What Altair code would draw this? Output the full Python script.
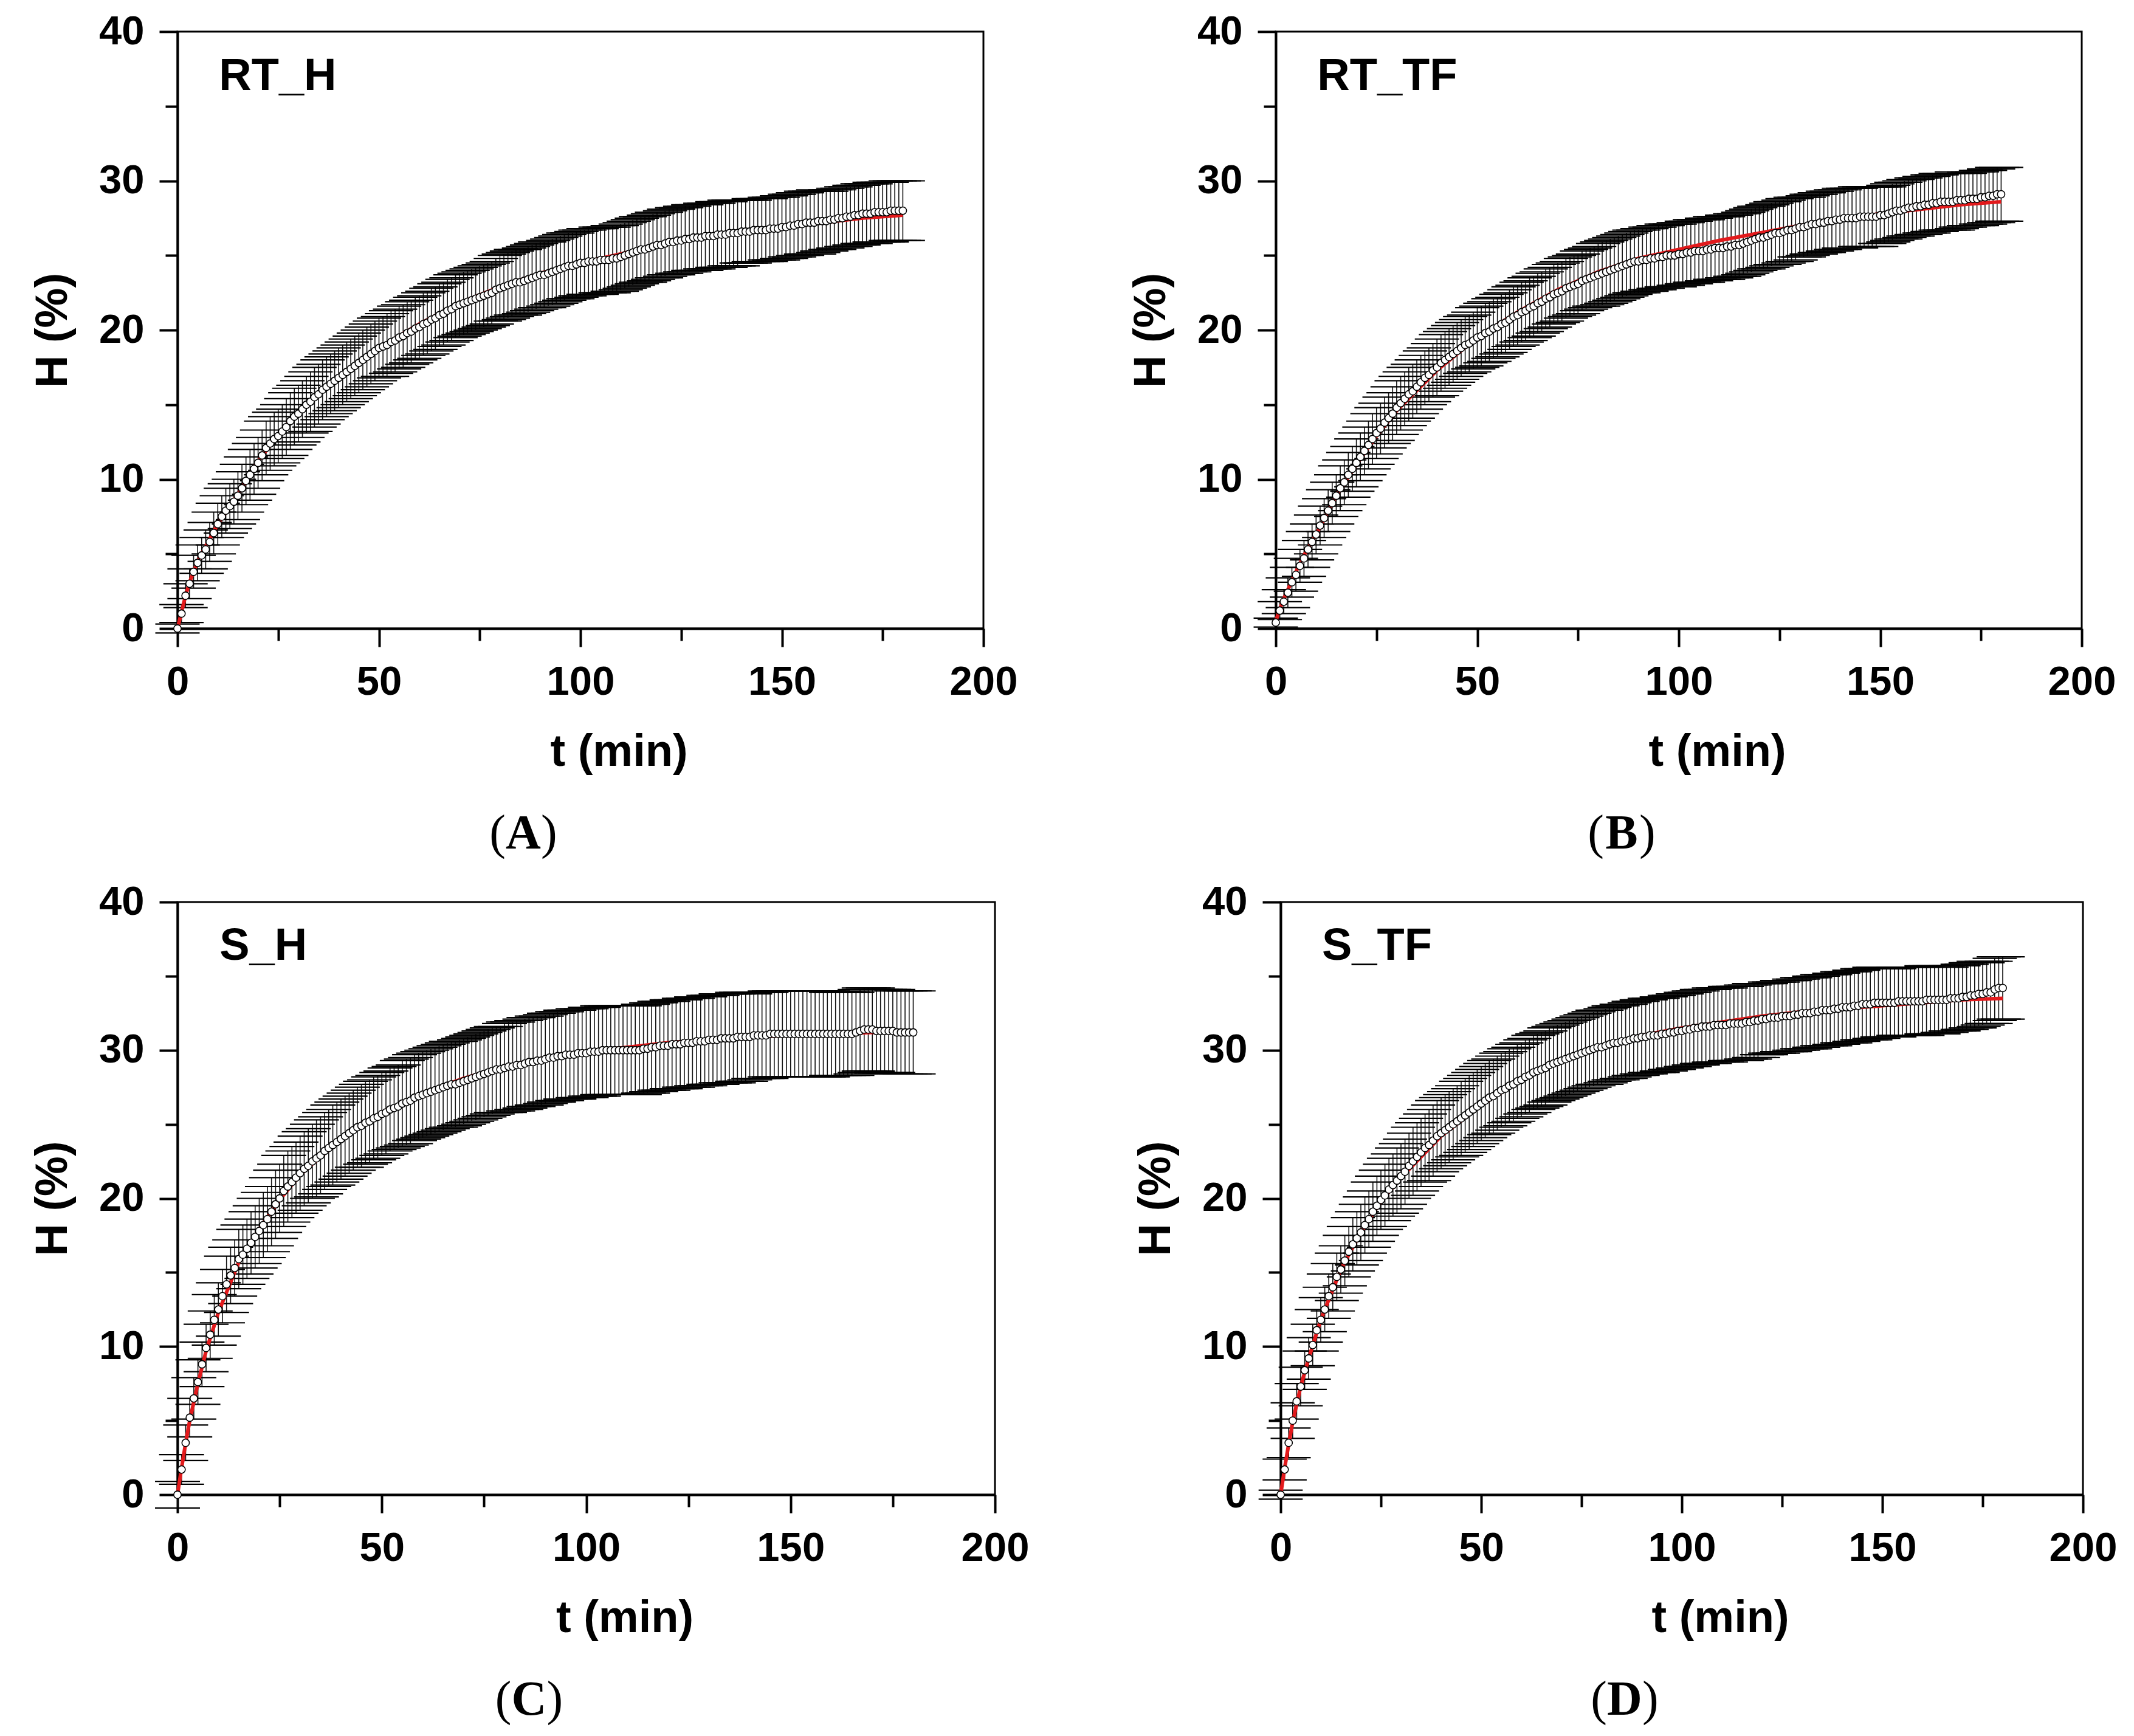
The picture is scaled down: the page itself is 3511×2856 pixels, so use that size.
import altair as alt
import pandas as pd

# time grid (min), one reading per minute
T = list(range(181))

# ---- panel A: RT_H ----
A_H = [0.0, 1.0, 2.2, 3.0, 3.8, 4.4, 4.9, 5.3, 5.8, 6.4,
       7.0, 7.5, 7.9, 8.2, 8.5, 8.9, 9.4, 9.9, 10.3, 10.7,
       11.1, 11.6, 12.1, 12.4, 12.7, 12.9, 13.2, 13.5, 13.9, 14.2,
       14.4, 14.7, 15.0, 15.2, 15.5, 15.7, 16.0, 16.2, 16.4, 16.6,
       16.8, 17.0, 17.2, 17.4, 17.6, 17.8, 18.0, 18.2, 18.4, 18.6,
       18.8, 18.9, 19.0, 19.2, 19.3, 19.5, 19.6, 19.8, 19.9, 20.1,
       20.2, 20.4, 20.5, 20.7, 20.8, 21.0, 21.1, 21.3, 21.4, 21.6,
       21.7, 21.8, 21.9, 22.0, 22.1, 22.2, 22.3, 22.4, 22.5, 22.7,
       22.8, 22.9, 23.0, 23.1, 23.2, 23.2, 23.3, 23.4, 23.5, 23.6,
       23.7, 23.7, 23.8, 23.9, 24.0, 24.1, 24.2, 24.3, 24.3, 24.4,
       24.5, 24.5, 24.6, 24.6, 24.6, 24.7, 24.7, 24.7, 24.8, 24.8,
       24.9, 25.0, 25.1, 25.2, 25.3, 25.4, 25.4, 25.5, 25.6, 25.7,
       25.7, 25.8, 25.9, 25.9, 26.0, 26.0, 26.1, 26.1, 26.2, 26.2,
       26.2, 26.3, 26.3, 26.3, 26.4, 26.4, 26.4, 26.5, 26.5, 26.5,
       26.6, 26.6, 26.6, 26.7, 26.7, 26.7, 26.7, 26.8, 26.8, 26.8,
       26.9, 26.9, 27.0, 27.0, 27.1, 27.1, 27.2, 27.2, 27.2, 27.3,
       27.3, 27.3, 27.4, 27.4, 27.5, 27.5, 27.6, 27.6, 27.7, 27.7,
       27.8, 27.8, 27.8, 27.9, 27.9, 27.9, 27.9, 28.0, 28.0, 28.0,
       28.0]
A_E = [0.3, 0.6, 0.8, 1.0, 1.1, 1.2, 1.2, 1.3, 1.3, 1.4,
       1.4, 1.4, 1.5, 1.5, 1.5, 1.6, 1.6, 1.6, 1.7, 1.7,
       1.7, 1.7, 1.8, 1.8, 1.8, 1.8, 1.8, 1.9, 1.9, 1.9,
       1.9, 1.9, 1.9, 2.0, 2.0, 2.0, 2.0, 2.0, 2.0, 2.0,
       2.0, 2.0, 2.0, 2.0, 2.0, 2.0, 2.0, 2.0, 2.0, 2.0,
       2.0, 2.0, 2.1, 2.1, 2.1, 2.1, 2.1, 2.1, 2.1, 2.1,
       2.1, 2.1, 2.1, 2.1, 2.1, 2.1, 2.1, 2.1, 2.1, 2.1,
       2.1, 2.1, 2.1, 2.1, 2.1, 2.1, 2.1, 2.1, 2.1, 2.1,
       2.2, 2.2, 2.2, 2.2, 2.2, 2.2, 2.2, 2.2, 2.2, 2.2,
       2.2, 2.2, 2.2, 2.2, 2.2, 2.2, 2.2, 2.2, 2.2, 2.2,
       2.2, 2.2, 2.2, 2.2, 2.2, 2.2, 2.2, 2.2, 2.2, 2.2,
       2.2, 2.2, 2.2, 2.2, 2.2, 2.2, 2.2, 2.2, 2.2, 2.2,
       2.2, 2.2, 2.2, 2.2, 2.2, 2.2, 2.2, 2.2, 2.2, 2.2,
       2.2, 2.2, 2.2, 2.2, 2.2, 2.2, 2.2, 2.2, 2.2, 2.2,
       2.1, 2.1, 2.1, 2.1, 2.1, 2.1, 2.1, 2.1, 2.1, 2.1,
       2.1, 2.1, 2.1, 2.1, 2.1, 2.1, 2.1, 2.1, 2.1, 2.1,
       2.0, 2.0, 2.0, 2.0, 2.0, 2.0, 2.0, 2.0, 2.0, 2.0,
       2.0, 2.0, 2.0, 2.0, 2.0, 2.0, 2.0, 2.0, 2.0, 2.0,
       2.0]

# ---- panel B: RT_TF ----
B_H = [0.4, 1.2, 1.8, 2.4, 3.1, 3.6, 4.2, 4.7, 5.3, 5.8,
       6.3, 6.9, 7.4, 7.9, 8.4, 8.9, 9.4, 9.8, 10.3, 10.7,
       11.1, 11.5, 11.9, 12.3, 12.7, 13.1, 13.4, 13.8, 14.1, 14.4,
       14.8, 15.1, 15.4, 15.7, 15.9, 16.2, 16.5, 16.8, 17.0, 17.3,
       17.5, 17.8, 18.0, 18.2, 18.4, 18.6, 18.8, 19.0, 19.1, 19.3,
       19.5, 19.6, 19.8, 19.9, 20.1, 20.2, 20.4, 20.5, 20.7, 20.9,
       21.0, 21.2, 21.3, 21.5, 21.6, 21.8, 21.9, 22.1, 22.2, 22.4,
       22.5, 22.6, 22.8, 22.9, 23.0, 23.1, 23.3, 23.4, 23.5, 23.6,
       23.7, 23.8, 23.9, 24.0, 24.1, 24.2, 24.3, 24.4, 24.5, 24.6,
       24.6, 24.7, 24.7, 24.8, 24.8, 24.9, 24.9, 25.0, 25.0, 25.0,
       25.1, 25.1, 25.2, 25.2, 25.3, 25.3, 25.3, 25.4, 25.4, 25.5,
       25.5, 25.5, 25.6, 25.6, 25.7, 25.7, 25.8, 25.9, 26.0, 26.1,
       26.2, 26.2, 26.3, 26.4, 26.5, 26.5, 26.6, 26.7, 26.7, 26.8,
       26.9, 26.9, 27.0, 27.1, 27.1, 27.2, 27.2, 27.3, 27.3, 27.4,
       27.4, 27.5, 27.5, 27.5, 27.5, 27.6, 27.6, 27.6, 27.6, 27.6,
       27.7, 27.7, 27.8, 27.9, 28.0, 28.0, 28.1, 28.2, 28.2, 28.3,
       28.3, 28.4, 28.4, 28.5, 28.5, 28.6, 28.6, 28.6, 28.6, 28.7,
       28.7, 28.7, 28.8, 28.8, 28.8, 28.9, 28.9, 29.0, 29.0, 29.1,
       29.1]
B_E = [0.3, 0.6, 0.8, 1.0, 1.0, 1.1, 1.1, 1.2, 1.2, 1.2,
       1.3, 1.3, 1.3, 1.4, 1.4, 1.4, 1.5, 1.5, 1.5, 1.5,
       1.6, 1.6, 1.6, 1.6, 1.7, 1.7, 1.7, 1.7, 1.7, 1.8,
       1.8, 1.8, 1.8, 1.8, 1.8, 1.8, 1.8, 1.8, 1.8, 1.8,
       1.9, 1.9, 1.9, 1.9, 1.9, 1.9, 1.9, 1.9, 1.9, 1.9,
       2.0, 2.0, 2.0, 2.0, 2.0, 2.0, 2.0, 2.0, 2.0, 2.0,
       2.0, 2.0, 2.0, 2.0, 2.0, 2.0, 2.0, 2.0, 2.0, 2.0,
       2.0, 2.0, 2.0, 2.0, 2.0, 2.0, 2.0, 2.0, 2.0, 2.0,
       2.1, 2.1, 2.1, 2.1, 2.1, 2.1, 2.1, 2.1, 2.1, 2.1,
       2.1, 2.1, 2.1, 2.1, 2.1, 2.1, 2.1, 2.1, 2.1, 2.1,
       2.1, 2.1, 2.1, 2.1, 2.1, 2.1, 2.1, 2.1, 2.1, 2.1,
       2.1, 2.1, 2.1, 2.1, 2.1, 2.1, 2.1, 2.1, 2.1, 2.1,
       2.1, 2.1, 2.1, 2.1, 2.1, 2.1, 2.1, 2.1, 2.1, 2.1,
       2.0, 2.0, 2.0, 2.0, 2.0, 2.0, 2.0, 2.0, 2.0, 2.0,
       2.0, 2.0, 2.0, 2.0, 2.0, 2.0, 2.0, 2.0, 2.0, 2.0,
       1.9, 1.9, 1.9, 1.9, 1.9, 1.9, 1.9, 1.9, 1.9, 1.9,
       1.9, 1.9, 1.9, 1.9, 1.9, 1.9, 1.9, 1.9, 1.9, 1.9,
       1.8, 1.8, 1.8, 1.8, 1.8, 1.8, 1.8, 1.8, 1.8, 1.8,
       1.8]

# ---- panel C: S_H ----
C_H = [0.0, 1.7, 3.5, 5.2, 6.5, 7.6, 8.8, 9.9, 10.8, 11.8,
       12.5, 13.4, 14.2, 14.8, 15.3, 15.9, 16.2, 16.6, 17.0, 17.4,
       17.8, 18.2, 18.6, 19.1, 19.6, 20.0, 20.5, 20.8, 21.1, 21.4,
       21.7, 22.0, 22.2, 22.5, 22.7, 22.9, 23.2, 23.4, 23.6, 23.8,
       24.0, 24.2, 24.4, 24.6, 24.8, 24.9, 25.1, 25.2, 25.4, 25.5,
       25.7, 25.8, 26.0, 26.1, 26.2, 26.4, 26.5, 26.6, 26.8, 26.9,
       27.0, 27.1, 27.2, 27.3, 27.4, 27.5, 27.6, 27.7, 27.7, 27.8,
       27.9, 28.0, 28.1, 28.2, 28.3, 28.4, 28.5, 28.6, 28.7, 28.7,
       28.8, 28.9, 28.9, 29.0, 29.0, 29.1, 29.2, 29.2, 29.3, 29.3,
       29.4, 29.5, 29.5, 29.6, 29.6, 29.7, 29.7, 29.7, 29.8, 29.8,
       29.8, 29.9, 29.9, 29.9, 30.0, 30.0, 30.0, 30.0, 30.0, 30.0,
       30.0, 30.0, 30.0, 30.0, 30.1, 30.1, 30.2, 30.2, 30.3, 30.3,
       30.3, 30.4, 30.4, 30.4, 30.5, 30.5, 30.5, 30.6, 30.6, 30.6,
       30.7, 30.7, 30.7, 30.8, 30.8, 30.8, 30.8, 30.9, 30.9, 30.9,
       30.9, 31.0, 31.0, 31.0, 31.0, 31.1, 31.1, 31.1, 31.1, 31.1,
       31.1, 31.1, 31.1, 31.1, 31.1, 31.1, 31.1, 31.1, 31.1, 31.1,
       31.1, 31.1, 31.1, 31.1, 31.1, 31.1, 31.2, 31.3, 31.4, 31.4,
       31.4, 31.3, 31.3, 31.3, 31.3, 31.3, 31.2, 31.2, 31.2, 31.2,
       31.2]
C_E = [0.9, 1.0, 1.2, 1.3, 1.4, 1.5, 1.5, 1.6, 1.6, 1.7,
       1.8, 1.8, 1.9, 1.9, 1.9, 2.0, 2.0, 2.0, 2.1, 2.1,
       2.2, 2.2, 2.2, 2.3, 2.3, 2.3, 2.4, 2.4, 2.4, 2.4,
       2.5, 2.5, 2.5, 2.5, 2.6, 2.6, 2.6, 2.6, 2.7, 2.7,
       2.7, 2.7, 2.7, 2.7, 2.7, 2.8, 2.8, 2.8, 2.8, 2.8,
       2.8, 2.8, 2.8, 2.8, 2.8, 2.9, 2.9, 2.9, 2.9, 2.9,
       2.9, 2.9, 2.9, 2.9, 2.9, 2.9, 2.9, 2.9, 2.9, 2.9,
       2.9, 2.9, 2.9, 2.9, 2.9, 2.9, 2.9, 2.9, 2.9, 2.9,
       3.0, 3.0, 3.0, 3.0, 3.0, 3.0, 3.0, 3.0, 3.0, 3.0,
       3.0, 3.0, 3.0, 3.0, 3.0, 3.0, 3.0, 3.0, 3.0, 3.0,
       3.0, 3.0, 3.0, 3.0, 3.0, 3.0, 3.0, 3.0, 3.0, 3.0,
       3.0, 3.0, 3.0, 3.0, 3.0, 3.0, 3.0, 3.0, 3.0, 3.0,
       3.0, 3.0, 3.0, 3.0, 3.0, 3.0, 3.0, 3.0, 3.0, 3.0,
       3.0, 3.0, 3.0, 3.0, 3.0, 3.0, 3.0, 3.0, 3.0, 3.0,
       2.9, 2.9, 2.9, 2.9, 2.9, 2.9, 2.9, 2.9, 2.9, 2.9,
       2.9, 2.9, 2.9, 2.9, 2.9, 2.9, 2.9, 2.9, 2.9, 2.9,
       2.8, 2.8, 2.8, 2.8, 2.8, 2.8, 2.8, 2.8, 2.8, 2.8,
       2.8, 2.8, 2.8, 2.8, 2.8, 2.8, 2.8, 2.8, 2.8, 2.8,
       2.8]

# ---- panel D: S_TF ----
D_H = [0.0, 1.7, 3.5, 5.0, 6.3, 7.3, 8.4, 9.2, 10.1, 11.1,
       11.8, 12.5, 13.4, 14.0, 14.7, 15.2, 15.8, 16.4, 16.9, 17.3,
       17.7, 18.2, 18.6, 19.1, 19.5, 19.9, 20.2, 20.6, 20.9, 21.2,
       21.5, 21.8, 22.2, 22.5, 22.8, 23.1, 23.4, 23.6, 23.9, 24.2,
       24.4, 24.6, 24.8, 25.0, 25.2, 25.4, 25.6, 25.8, 26.0, 26.2,
       26.4, 26.6, 26.8, 26.9, 27.1, 27.3, 27.4, 27.6, 27.7, 27.9,
       28.0, 28.2, 28.3, 28.5, 28.6, 28.7, 28.8, 29.0, 29.1, 29.2,
       29.3, 29.4, 29.5, 29.6, 29.7, 29.8, 29.9, 30.0, 30.1, 30.2,
       30.2, 30.3, 30.4, 30.5, 30.5, 30.6, 30.6, 30.7, 30.8, 30.8,
       30.9, 30.9, 31.0, 31.0, 31.0, 31.1, 31.1, 31.2, 31.2, 31.3,
       31.3, 31.4, 31.4, 31.5, 31.5, 31.6, 31.6, 31.6, 31.7, 31.7,
       31.7, 31.7, 31.8, 31.8, 31.8, 31.8, 31.9, 31.9, 32.0, 32.0,
       32.1, 32.1, 32.2, 32.2, 32.2, 32.3, 32.3, 32.3, 32.4, 32.4,
       32.5, 32.5, 32.5, 32.6, 32.6, 32.7, 32.7, 32.7, 32.8, 32.8,
       32.9, 32.9, 32.9, 33.0, 33.0, 33.1, 33.1, 33.1, 33.2, 33.2,
       33.2, 33.2, 33.2, 33.2, 33.3, 33.3, 33.3, 33.3, 33.3, 33.3,
       33.3, 33.4, 33.4, 33.4, 33.4, 33.4, 33.4, 33.5, 33.5, 33.5,
       33.6, 33.6, 33.7, 33.7, 33.8, 33.8, 33.9, 33.9, 34.1, 34.2,
       34.2]
D_E = [0.3, 0.7, 1.0, 1.2, 1.2, 1.3, 1.3, 1.4, 1.4, 1.4,
       1.5, 1.5, 1.5, 1.6, 1.6, 1.6, 1.7, 1.7, 1.8, 1.8,
       1.9, 1.9, 1.9, 2.0, 2.0, 2.0, 2.1, 2.1, 2.1, 2.2,
       2.2, 2.2, 2.2, 2.3, 2.3, 2.3, 2.3, 2.4, 2.4, 2.4,
       2.4, 2.4, 2.4, 2.4, 2.4, 2.5, 2.5, 2.5, 2.5, 2.5,
       2.5, 2.5, 2.5, 2.5, 2.5, 2.5, 2.5, 2.5, 2.5, 2.5,
       2.5, 2.5, 2.5, 2.5, 2.5, 2.5, 2.5, 2.5, 2.5, 2.5,
       2.5, 2.5, 2.5, 2.5, 2.5, 2.5, 2.5, 2.5, 2.5, 2.5,
       2.5, 2.5, 2.5, 2.5, 2.5, 2.5, 2.5, 2.5, 2.5, 2.5,
       2.5, 2.5, 2.5, 2.5, 2.5, 2.5, 2.5, 2.5, 2.5, 2.5,
       2.5, 2.5, 2.5, 2.5, 2.5, 2.5, 2.5, 2.5, 2.5, 2.5,
       2.5, 2.5, 2.5, 2.5, 2.5, 2.5, 2.5, 2.5, 2.5, 2.5,
       2.4, 2.4, 2.4, 2.4, 2.4, 2.4, 2.4, 2.4, 2.4, 2.4,
       2.4, 2.4, 2.4, 2.4, 2.4, 2.4, 2.4, 2.4, 2.4, 2.4,
       2.4, 2.4, 2.4, 2.4, 2.4, 2.4, 2.4, 2.4, 2.4, 2.4,
       2.3, 2.3, 2.3, 2.3, 2.3, 2.3, 2.3, 2.3, 2.3, 2.3,
       2.3, 2.3, 2.3, 2.3, 2.3, 2.2, 2.2, 2.2, 2.2, 2.2,
       2.2, 2.2, 2.2, 2.2, 2.2, 2.1, 2.1, 2.1, 2.1, 2.1,
       2.1]

# ---- fitted (red) curves ----
RED_T = [0, 1, 2, 3, 5, 7, 10, 15, 20, 25, 30, 40, 50, 60, 70, 80, 90,
         100, 110, 120, 130, 140, 150, 160, 170, 180]
A_RED = [0.0, 1.1, 2.2, 3.1, 4.5, 5.5, 7.0, 9.0, 11.2, 13.0, 14.5, 16.9, 18.8,
         20.4, 21.8, 22.9, 23.8, 24.5, 25.1, 25.7, 26.2, 26.6, 26.9, 27.2, 27.5, 27.7]
B_RED = [0.5, 1.3, 2.0, 2.6, 3.8, 4.9, 6.3, 8.9, 11.0, 12.9, 14.6, 17.3, 19.5,
         21.2, 22.7, 23.9, 24.8, 25.4, 26.0, 26.5, 27.0, 27.4, 27.8, 28.1, 28.4, 28.6]
C_RED = [0.0, 1.8, 3.5, 5.0, 7.5, 9.7, 12.3, 15.7, 17.9, 19.9, 21.6, 24.0, 25.8,
         27.1, 28.1, 28.9, 29.5, 29.9, 30.2, 30.5, 30.7, 30.9, 31.0, 31.1, 31.2, 31.2]
D_RED = [0.0, 1.8, 3.4, 4.9, 7.3, 9.2, 11.8, 15.2, 17.7, 19.8, 21.4, 24.2, 26.3,
         28.0, 29.3, 30.3, 31.0, 31.5, 31.9, 32.3, 32.6, 32.8, 33.0, 33.2, 33.4, 33.5]

NAMES = ["RT_H", "RT_TF", "S_H", "S_TF"]
LETTERS = ["A", "B", "C", "D"]

X_TICKS = [0, 25, 50, 75, 100, 125, 150, 175, 200]
Y_TICKS = [0, 5, 10, 15, 20, 25, 30, 35, 40]
CAP = 5.5  # half width of error-bar caps (min)


def panel(name, letter, h, e, red, w, ht):
    df = pd.DataFrame({"t": T, "h": h, "e": e})
    rdf = pd.DataFrame({"t": RED_T, "h": red})
    xs = alt.Scale(domain=[0, 200], nice=False, zero=False)
    ys = alt.Scale(domain=[0, 40], nice=False, zero=False)
    xaxis = alt.Axis(
        values=X_TICKS,
        labelExpr="datum.value % 50 === 0 ? datum.label : ''",
        tickSize={"condition": {"test": "datum.value % 50 === 0", "value": 30}, "value": 20},
        title="t (min)", titleX=w / 2 + 63, titleY=203, titleBaseline="middle",
        titleAlign="center", labelPadding=25,
    )
    yaxis = alt.Axis(
        values=Y_TICKS,
        labelExpr="datum.value % 10 === 0 ? datum.label : ''",
        tickSize={"condition": {"test": "datum.value % 10 === 0", "value": 30}, "value": 20},
        title="H (%)", titleX=-205, titleY=ht / 2, titleAngle=270,
        titleBaseline="middle", titleAlign="center", labelPadding=25,
    )
    X = lambda f: alt.X(f, type="quantitative", scale=xs, axis=xaxis)
    Y = lambda f: alt.Y(f, type="quantitative", scale=ys, axis=yaxis)

    base = alt.Chart(df).transform_calculate(
        lo="datum.h - datum.e", hi="datum.h + datum.e",
        tl="datum.t - %s" % CAP, tr="datum.t + %s" % CAP,
    )
    stems = base.mark_rule(color="#111111", strokeWidth=1.6).encode(
        x=X("t"), y=Y("lo"), y2="hi:Q")
    cap_hi = base.mark_rule(color="black", strokeWidth=2.2).encode(
        x=X("tl"), x2="tr:Q", y=Y("hi"))
    cap_lo = base.mark_rule(color="black", strokeWidth=2.2).encode(
        x=X("tl"), x2="tr:Q", y=Y("lo"))
    fit = alt.Chart(rdf).mark_line(color="#e31a1c", strokeWidth=6).encode(
        x=X("t"), y=Y("h"))
    pts = alt.Chart(df).mark_point(
        shape="circle", filled=True, fill="white", stroke="black",
        strokeWidth=1.6, size=150, opacity=1).encode(x=X("t"), y=Y("h"))
    lab = alt.Chart(pd.DataFrame({"t": [10.3], "h": [36.1], "s": [name]})).mark_text(
        font="Liberation Sans", fontSize=74, fontWeight="bold", align="left",
        baseline="alphabetic", color="black").encode(x=X("t"), y=Y("h"), text="s:N")

    one = pd.DataFrame({"k": [0]})
    cx = w / 2 - 94
    cy = ht + 338
    serif = dict(font="Liberation Serif", fontSize=80, baseline="middle", color="black")
    lp = alt.Chart(one).mark_text(text="(", align="right", **serif).encode(
        x=alt.value(cx - 29), y=alt.value(cy))
    lm = alt.Chart(one).mark_text(text=letter, align="center", fontWeight="bold", **serif).encode(
        x=alt.value(cx), y=alt.value(cy))
    rp = alt.Chart(one).mark_text(text=")", align="left", **serif).encode(
        x=alt.value(cx + 29), y=alt.value(cy))

    return alt.layer(stems, cap_hi, cap_lo, fit, pts, lab, lp, lm, rp).properties(
        width=w, height=ht)


pA = panel(NAMES[0], LETTERS[0], A_H, A_E, A_RED, 1326, 982)
pB = panel(NAMES[1], LETTERS[1], B_H, B_E, B_RED, 1326, 982)
pC = panel(NAMES[2], LETTERS[2], C_H, C_E, C_RED, 1345, 975)
pD = panel(NAMES[3], LETTERS[3], D_H, D_E, D_RED, 1320, 975)

row1 = alt.hconcat(pA, pB, spacing=179)
row2 = alt.hconcat(pC, pD, spacing=168)

chart = alt.vconcat(row1, row2, spacing=34).properties(
    padding={"left": 40, "top": 8, "right": 10, "bottom": 10},
    background="white",
).configure_view(
    stroke="black", strokeWidth=3, fill="white"
).configure_axis(
    domainColor="black", domainWidth=4, tickColor="black", tickWidth=4,
    labelFont="Liberation Sans", labelFontSize=67, labelFontWeight="bold",
    labelColor="black", titleFont="Liberation Sans", titleFontSize=74,
    titleFontWeight="bold", titleColor="black", grid=False,
    labelFlush=False, labelOverlap=False,
)

chart.save("out.html", embed_options={"renderer": "svg", "actions": False})
